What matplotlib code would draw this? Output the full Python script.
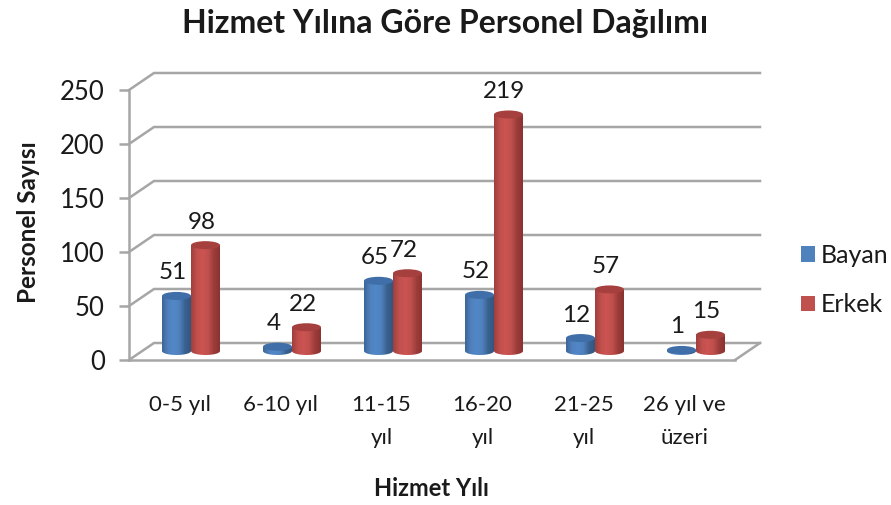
#!/usr/bin/env python3
"""Hizmet yilina gore personel dagilimi - pseudo 3D cylinder chart."""

import matplotlib
matplotlib.use('Agg')
import matplotlib.pyplot as plt
import numpy as np
from matplotlib.colors import LinearSegmentedColormap
from matplotlib.patches import Ellipse, Patch, Polygon

plt.rcParams['font.family'] = ['Lato', 'DejaVu Sans']

categories = ['0-5 yıl', '6-10 yıl', '11-15\nyıl', '16-20\nyıl', '21-25\nyıl', '26 yıl ve\nüzeri']
bayan = [51, 4, 65, 52, 12, 1]
erkek = [98, 22, 72, 219, 57, 15]
yticks = [0, 50, 100, 150, 200, 250]

W, H = 891, 505
GRAY = '#a6a6a6'
TEXT = '#1a1a1a'

fig = plt.figure(figsize=(W / 100, H / 100), dpi=100)
# front plane of the chart box, in pixels
left, right, top, bottom = 129, 735, 90, 360
ax = fig.add_axes([left / W, 1 - bottom / H, (right - left) / W, (bottom - top) / H])
ax.set_facecolor('none')

px_x = (right - left) / len(categories)
px_y = (bottom - top) / 250
depth_x = 25 / px_x
depth_y = 17 / px_y

# gridlines on the back wall, joined to the ticks by a diagonal
for v in yticks:
    ax.plot([0, depth_x, len(categories) + depth_x], [v, v + depth_y, v + depth_y],
            color=GRAY, lw=1.8, clip_on=False, zorder=1, solid_joinstyle='miter')
# floor edge on the right
ax.plot([len(categories), len(categories) + depth_x], [0, depth_y], color=GRAY, lw=1.8,
        clip_on=False, zorder=1)

bar_w = 29 / px_x
ell_h = 8 / px_y
base_y = 9 / px_y
grad = np.linspace(0, 1, 64).reshape(1, -1)
cmap_blue = LinearSegmentedColormap.from_list('b', ['#3d6699', '#4f81bd', '#5288c8', '#4f81bd', '#3a6291', '#335680'])
cmap_red = LinearSegmentedColormap.from_list('r', ['#a03f3d', '#c0504d', '#cc5452', '#c0504d', '#9c3c3a', '#8a3331'])


def cylinder(xc, value, cmap, top_color, z):
    x0, x1 = xc - bar_w / 2, xc + bar_w / 2
    t = np.linspace(np.pi, 2 * np.pi, 40)
    xs = xc + bar_w / 2 * np.cos(t)
    ys = base_y + ell_h / 2 * np.sin(t)
    pts = np.column_stack([np.r_[xs, x1, x0], np.r_[ys, base_y + value, base_y + value]])
    body = Polygon(pts, closed=True, transform=ax.transData, facecolor='none', edgecolor='none')
    ax.add_patch(body)
    body.set_clip_on(False)
    im = ax.imshow(grad, cmap=cmap, extent=[x0, x1, 0, base_y + value + 1], aspect='auto',
                   zorder=z, clip_on=True)
    im.set_clip_path(body)
    ax.add_patch(Ellipse((xc, base_y + value), bar_w, ell_h, facecolor=top_color, edgecolor='none',
                         zorder=z + 0.5, clip_on=False))


for i, (b, e) in enumerate(zip(bayan, erkek)):
    center = i + 0.5 + (depth_x / 2 - 1 / px_x)
    xb = center - bar_w / 2
    xe = center + bar_w / 2
    cylinder(xb, b, cmap_blue, '#3f6ea8', 3 + i)
    cylinder(xe, e, cmap_red, '#a5403e', 3.6 + i)
    ax.text(xb - 4 / px_x, base_y + b + 23 / px_y, str(b), ha='center', va='center',
            fontsize=17.5, color=TEXT, zorder=20)
    ax.text(xe - 4 / px_x, base_y + e + 23 / px_y, str(e), ha='center', va='center',
            fontsize=17.5, color=TEXT, zorder=20)

ax.set_xlim(0, len(categories))
ax.set_ylim(0, 250)
ax.set_xticks(np.arange(len(categories)) + 0.5)
ax.set_xticklabels(categories, fontsize=16, color=TEXT, linespacing=1.8)
ax.set_yticks(yticks)
ax.tick_params(axis='x', length=0, pad=25)
ax.tick_params(axis='y', length=7, width=1.8, color=GRAY, labelsize=18.5, labelcolor=TEXT, pad=10.5)
for s in ['top', 'right']:
    ax.spines[s].set_visible(False)
for s in ['left', 'bottom']:
    ax.spines[s].set_color(GRAY)
    ax.spines[s].set_linewidth(1.8)
    ax.spines[s].set_zorder(2)

fig.suptitle('Hizmet Yılına Göre Personel Dağılımı', x=445 / W, y=1 - 24 / H, va='center',
             fontsize=23, fontweight='bold', color=TEXT)
fig.supxlabel('Hizmet Yılı', x=431 / W, y=1 - 488 / H, va='center', fontsize=17,
              fontweight='bold', color=TEXT)
fig.supylabel('Personel Sayısı', x=29 / W, y=1 - 222 / H, ha='center', va='center', fontsize=17.5,
              fontweight='bold', color=TEXT)

handles = [Patch(facecolor='#4f81bd', label='Bayan'), Patch(facecolor='#c0504d', label='Erkek')]
fig.legend(handles=handles, loc='center left', bbox_to_anchor=(778 / W, 1 - 280 / H), frameon=False,
           fontsize=18, handlelength=0.56, handleheight=0.56, handletextpad=0.26, labelspacing=1.05,
           labelcolor=TEXT)

fig.savefig('out.png', dpi=100)
